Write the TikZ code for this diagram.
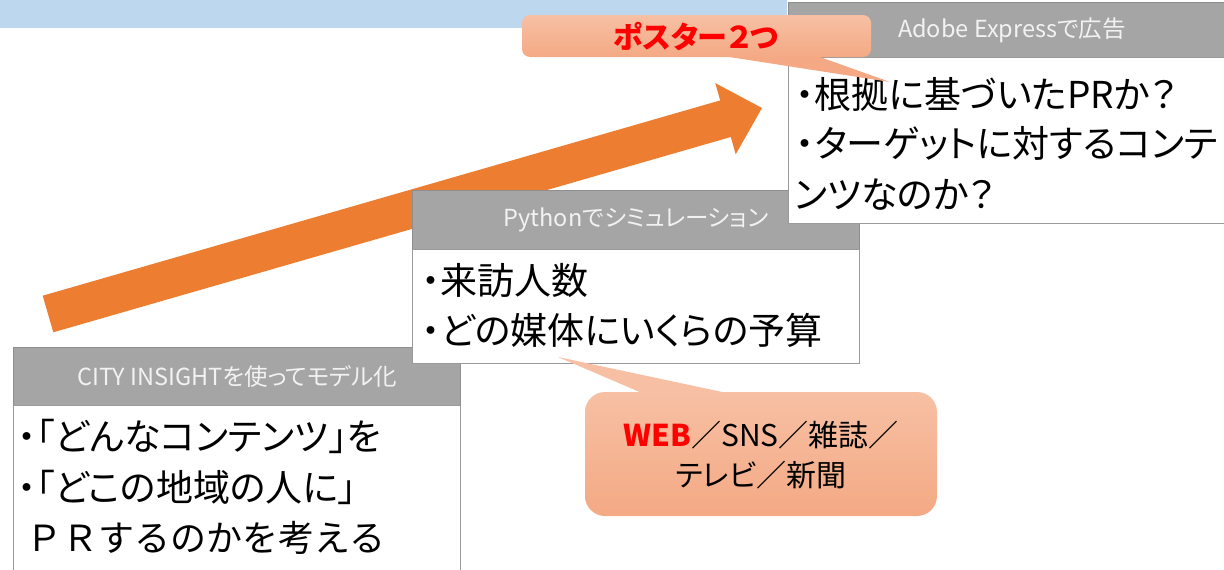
\documentclass[tikz,border=0pt]{standalone}
\usepackage{fontspec}
\setmainfont{Noto Sans CJK JP}[RawFeature=+palt]
\newfontfamily\jpw{Noto Sans CJK JP}
\definecolor{bandblue}{HTML}{BDD7EE}
\definecolor{arroworange}{HTML}{ED7D31}
\definecolor{hdrgray}{HTML}{A5A5A5}
\definecolor{hdrline}{HTML}{8E8E8E}
\definecolor{bodyline}{HTML}{9A9A9A}
\definecolor{hdrtext}{HTML}{F2F2F2}
\definecolor{calltop}{HTML}{F7C0A4}
\definecolor{callbot}{HTML}{F4A984}
\definecolor{webred}{HTML}{FF0000}
\begin{document}
\begin{tikzpicture}[x=1pt,y=-1pt,
  hdr/.style={draw=hdrline, fill=hdrgray, line width=1pt, inner sep=0pt, anchor=north west,
    text=hdrtext, font=\fontsize{23.5}{26}\selectfont},
  bodybox/.style={draw=bodyline, fill=white, line width=1.2pt, inner sep=0pt, anchor=north west},
  bodytext/.style={anchor=base west, inner sep=0pt, font=\fontsize{37}{42}\selectfont, text=black},
  callbody/.style={top color=calltop, bottom color=callbot, draw=none},
  calltext/.style={inner sep=0pt, align=center},
]
\useasboundingbox (0,0) rectangle (1224,570);

% background band
\fill[bandblue] (0,0) rectangle (787,28);

% big orange arrow
\coordinate (arrTailTop) at (42.7,295.7);
\coordinate (arrTailBot) at (53.3,332.3);
\coordinate (arrTip) at (762,108);
\fill[arroworange] (arrTailTop) -- (720.2,100.4) -- (715.3,83.1) -- (arrTip)
  -- (735.7,154.3) -- (730.8,137) -- (arrTailBot) -- cycle;

% CITY INSIGHT box
\node[hdr, minimum width=447pt, minimum height=58pt] (cityH) at (13,347) {CITY INSIGHTを使ってモデル化};
\node[bodybox, minimum width=447pt, minimum height=180pt] (cityB) at (13,405) {};
\node[bodytext] (cityL1) at (18,450) {・「どんなコンテンツ」を};
\node[bodytext] (cityL2) at (18,501) {・「どこの地域の人に」};
\node[bodytext, font=\jpw\fontsize{36}{40}\selectfont] (cityL3) at (26,551) {ＰＲするのかを考える};

% Python box
\node[hdr, minimum width=447pt, minimum height=59pt] (pyH) at (412,190) {Pythonでシミュレーション};
\node[bodybox, minimum width=447pt, minimum height=114pt] (pyB) at (412,249) {};
\node[bodytext] (pyL1) at (422,294) {・来訪人数};
\node[bodytext] (pyL2) at (422,344) {・どの媒体にいくらの予算};

% Adobe Express box
\node[hdr, minimum width=447pt, minimum height=55pt] (adH) at (788,2) {Adobe Expressで広告};
\node[bodybox, minimum width=447pt, minimum height=166pt] (adB) at (788,57) {};
\node[bodytext] (adL1) at (796,108) {・根拠に基づいたPRか？};
\node[bodytext] (adL2) at (796,157) {・ターゲットに対するコンテ};
\node[bodytext] (adL3) at (794,208) {ンツなのか？};

% callout: poster
\coordinate (posterTip) at (890,82);
\fill[callbot] (723,56) -- (817,56) -- (posterTip) -- cycle;
\path[callbody, rounded corners=8pt] (522,15) rectangle (871,57);
\node[calltext, font=\bfseries\fontsize{30}{32}\selectfont, text=webred] (posterT) at (696,37) {ポスター２つ};

% callout: media
\coordinate (webTip) at (558,357);
\fill[calltop] (642,393) -- (727,393) -- (webTip) -- cycle;
\path[callbody, rounded corners=20pt] (585,392) rectangle (937,516);
\node[calltext, font=\fontsize{30}{40}\selectfont] (webT) at (761,455)
  {{\bfseries\color{webred}WEB}／SNS／雑誌／\\テレビ／新聞};
\end{tikzpicture}
\end{document}
